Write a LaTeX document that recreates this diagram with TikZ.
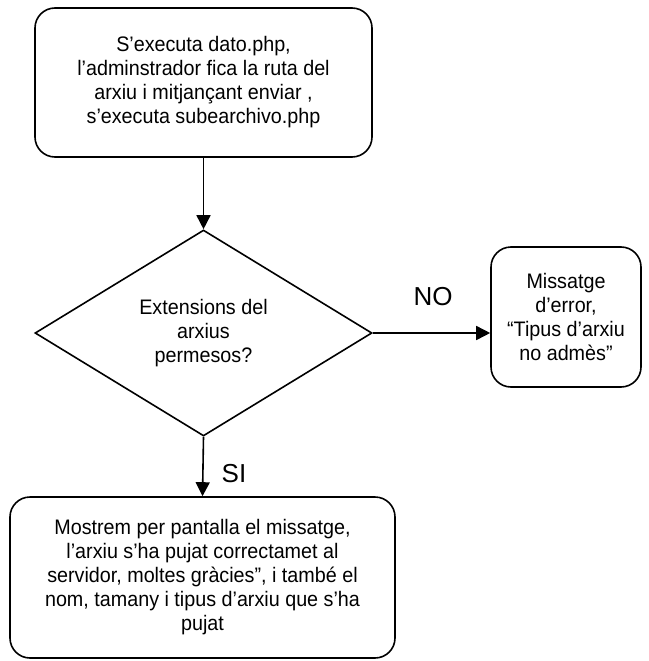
\documentclass[tikz,border=0pt]{standalone}
\usepackage{fontspec}
\setmainfont{Liberation Sans}
\newfontfamily\narrowfont[FakeStretch=0.94]{Liberation Sans}
\usetikzlibrary{shapes.geometric,arrows.meta}
\begin{document}
\begin{tikzpicture}[x=1pt,y=-1pt,
  every node/.style={font=\narrowfont\fontsize{21}{24}\selectfont, align=center},
  box/.style={draw, line width=1.6pt, rounded corners=20pt, inner sep=0pt},
  decision/.style={draw, line width=1.6pt, diamond, inner sep=0pt, minimum width=337pt, minimum height=206pt},
  flow/.style={line width=1.6pt, -{Triangle[length=14pt,width=14pt]}},
  lbl/.style={font=\fontsize{26}{30}\selectfont}]
\useasboundingbox (0,0) rectangle (648,661);
\node[box, minimum width=337pt, minimum height=149pt] (start) at (203.5,82.5)
  {S’executa dato.php,\\l’adminstrador fica la ruta del\\arxiu i mitjançant enviar ,\\s’executa subearchivo.php};
\node[decision] (dec) at (203.5,333) {Extensions del\\arxius\\permesos?};
\node[box, minimum width=150pt, minimum height=140pt] (err) at (566,317)
  {Missatge\\d’error,\\“Tipus d’arxiu\\no admès”};
\node[box, minimum width=385pt, minimum height=161pt] (ok) at (202.5,577.5)
  {Mostrem per pantalla el missatge,\\l’arxiu s’ha pujat correctamet al\\servidor, moltes gràcies”, i també el\\nom, tamany i tipus d’arxiu que s’ha\\pujat};
\draw[flow] (start.south) -- (dec.north);
\draw[flow] (dec.east) -- (err.west |- dec.east);
\draw[flow] (dec.south) -- (ok.north);
\node[lbl] (no) at (433,297) {NO};
\node[lbl] (si) at (234,474) {SI};
\end{tikzpicture}
\end{document}
